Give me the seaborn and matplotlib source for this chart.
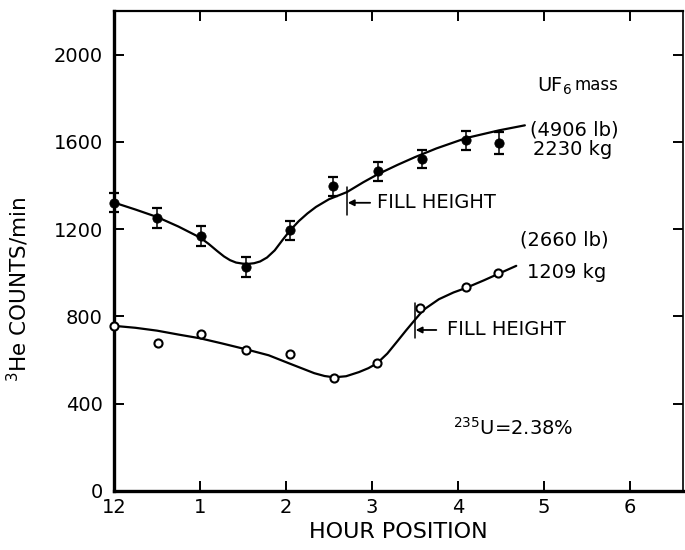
import matplotlib
matplotlib.use("Agg")
import matplotlib.pyplot as plt
import seaborn as sns
import pandas as pd

# ---------------- data ----------------
hour_ticks = [0, 1, 2, 3, 4, 5, 6]
hour_labels = ["12", "1", "2", "3", "4", "5", "6"]
count_ticks = [0, 400, 800, 1200, 1600, 2000]

# 2230 kg cylinder: measured points with error bars
heavy_hour = [0.0, 0.50, 1.01, 1.53, 2.05, 2.55, 3.07, 3.58, 4.10, 4.48]
heavy_counts = [1322, 1250, 1168, 1027, 1194, 1396, 1465, 1522, 1607, 1596]
heavy_err = [45, 45, 46, 44, 44, 42, 42, 43, 44, 50]

# 2230 kg cylinder: drawn trend curve
heavy_curve_hour = [0.0, 0.25, 0.5, 0.75, 1.0, 1.1, 1.2, 1.28, 1.35, 1.42,
                    1.5, 1.56, 1.63, 1.7, 1.78, 1.87, 1.96, 2.05, 2.15, 2.25,
                    2.35, 2.5, 2.71, 2.9, 3.07, 3.3, 3.5, 3.75, 4.1, 4.48, 4.78]
heavy_curve_counts = [1322, 1290, 1256, 1212, 1162, 1133, 1100, 1075, 1058, 1047,
                      1042, 1041, 1044, 1052, 1070, 1103, 1150, 1195, 1237, 1272,
                      1302, 1337, 1370, 1415, 1452, 1495, 1530, 1570, 1618, 1653, 1676]

# 1209 kg cylinder: measured points
light_hour = [0.0, 0.51, 1.01, 1.53, 2.05, 2.56, 3.06, 3.56, 4.09, 4.47]
light_counts = [757, 680, 720, 647, 628, 520, 586, 838, 937, 998]

# 1209 kg cylinder: drawn trend curve
light_curve_hour = [0.0, 0.25, 0.5, 0.75, 1.0, 1.25, 1.53, 1.8, 2.05, 2.2,
                    2.33, 2.45, 2.56, 2.7, 2.85, 2.96, 3.06, 3.18, 3.3, 3.4,
                    3.5, 3.6, 3.78, 3.95, 4.09, 4.3, 4.47, 4.68]
light_curve_counts = [757, 748, 735, 717, 700, 677, 650, 622, 583, 560,
                      540, 527, 521, 526, 545, 563, 585, 630, 688, 737,
                      784, 830, 879, 910, 930, 965, 995, 1032]

# ---------------- style ----------------
sns.set_theme(style="ticks")
plt.rcParams["font.family"] = ["DejaVu Sans"]
plt.rcParams["mathtext.fontset"] = "dejavusans"
plt.rcParams["text.color"] = "black"
plt.rcParams["axes.labelcolor"] = "black"
plt.rcParams["xtick.color"] = "black"
plt.rcParams["ytick.color"] = "black"

fig = plt.figure(figsize=(6.85, 5.5), dpi=100)
ax = fig.add_axes([114 / 685, 59 / 550, 569 / 685, 480 / 550])

heavy_df = pd.DataFrame({"hour": heavy_hour, "counts": heavy_counts})
light_df = pd.DataFrame({"hour": light_hour, "counts": light_counts})
heavy_curve = pd.DataFrame({"hour": heavy_curve_hour, "counts": heavy_curve_counts})
light_curve = pd.DataFrame({"hour": light_curve_hour, "counts": light_curve_counts})

# curves
sns.lineplot(data=heavy_curve, x="hour", y="counts", ax=ax, color="black",
             lw=1.6, sort=False, estimator=None)
sns.lineplot(data=light_curve, x="hour", y="counts", ax=ax, color="black",
             lw=1.6, sort=False, estimator=None)
for ln in ax.lines:
    ln.set_solid_joinstyle("round")

# error bars
eb = ax.errorbar(heavy_hour, heavy_counts, yerr=heavy_err, fmt="none",
                 ecolor="black", elinewidth=1.1, capsize=3.5, capthick=1.6)
for art in eb.lines[1] + eb.lines[2]:
    art.set_clip_on(False)

# points
sns.scatterplot(data=heavy_df, x="hour", y="counts", ax=ax, color="black",
                edgecolor="black", s=45, marker="o", zorder=4)
sns.scatterplot(data=light_df, x="hour", y="counts", ax=ax,
                facecolor="white", edgecolor="black", linewidth=1.5,
                s=34, marker="o", zorder=4)
for coll in ax.collections:
    coll.set_clip_on(False)
for ln in ax.lines:
    ln.set_clip_on(False)

# axes
ax.set_xlim(0, 6.62)
ax.set_ylim(0, 2200)
ax.set_xticks(hour_ticks)
ax.set_xticklabels(hour_labels)
ax.set_yticks(count_ticks)
ax.tick_params(direction="in", length=7, width=1.4, top=True, right=True,
               labelsize=14, colors="black")
ax.tick_params(axis="y", pad=8)
ax.tick_params(axis="x", pad=5)
for side, lw in [("left", 2.4), ("bottom", 2.4), ("top", 1.6), ("right", 1.2)]:
    ax.spines[side].set_visible(True)
    ax.spines[side].set_linewidth(lw)
    ax.spines[side].set_color("black")

ax.set_xlabel("HOUR POSITION", fontsize=16, labelpad=4)
ax.set_ylabel(r"$^{3}$He COUNTS/min", fontsize=15.5)
ax.yaxis.set_label_coords(-0.145, 0.42)

# fill height annotations (upper)
ax.plot([2.71, 2.71], [1266, 1394], color="black", lw=1.1)
ax.annotate("", xy=(2.72, 1321), xytext=(2.98, 1321),
            arrowprops=dict(arrowstyle="-|>", lw=1.3, color="black",
                            mutation_scale=9, shrinkA=0, shrinkB=0))
ax.text(3.06, 1321, "FILL HEIGHT", fontsize=14, va="center", ha="left")

# fill height annotations (lower)
ax.plot([3.5, 3.5], [702, 862], color="black", lw=1.1)
ax.annotate("", xy=(3.51, 738), xytext=(3.75, 738),
            arrowprops=dict(arrowstyle="-|>", lw=1.3, color="black",
                            mutation_scale=9, shrinkA=0, shrinkB=0))
ax.text(3.87, 738, "FILL HEIGHT", fontsize=14, va="center", ha="left")

# mass labels
ax.text(4.92, 1853, r"UF$_6$", fontsize=14, va="center", ha="left")
ax.text(5.36, 1860, "mass", fontsize=12, va="center", ha="left")
ax.text(4.84, 1656, "(4906 lb)", fontsize=14, va="center", ha="left")
ax.text(4.88, 1564, "2230 kg", fontsize=14, va="center", ha="left")
ax.text(4.72, 1151, "(2660 lb)", fontsize=14, va="center", ha="left")
ax.text(4.81, 1000, "1209 kg", fontsize=14, va="center", ha="left")
ax.text(3.94, 289, r"$^{235}$U=2.38%", fontsize=14, va="center", ha="left")

fig.savefig("out.png", dpi=100)
